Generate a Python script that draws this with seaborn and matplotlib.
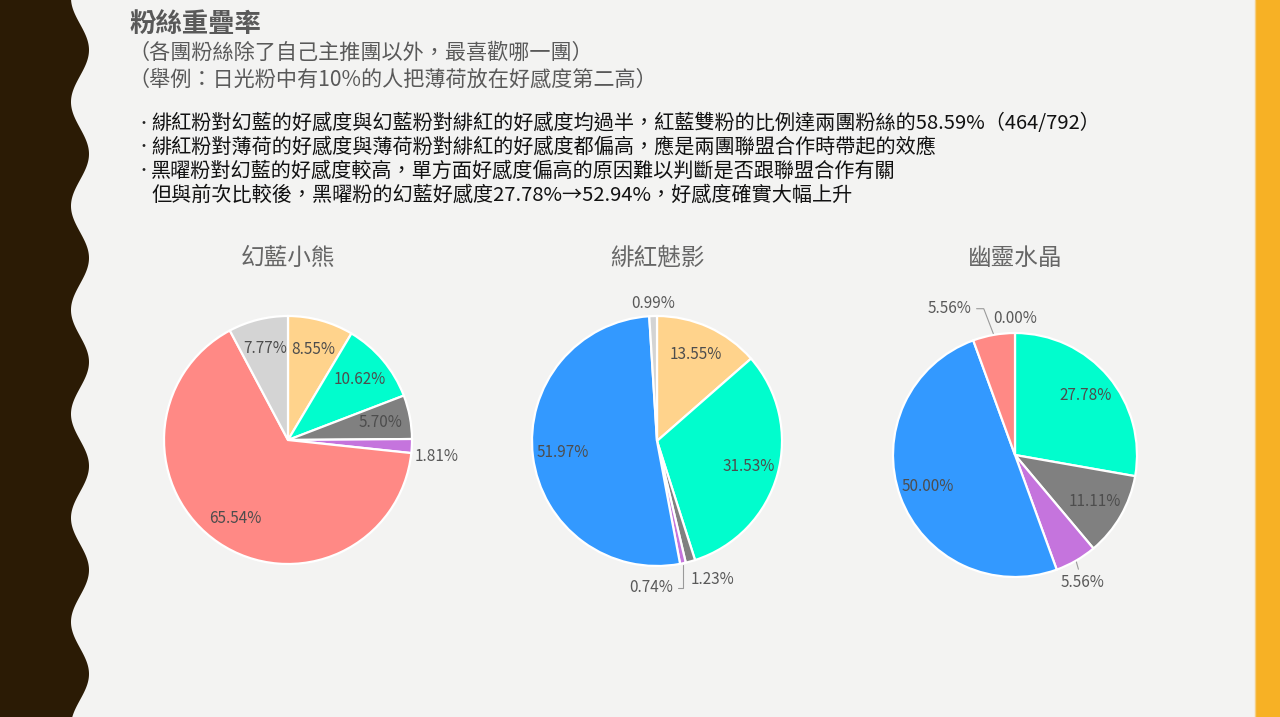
import numpy as np
import matplotlib
matplotlib.use("Agg")
import matplotlib.pyplot as plt
import seaborn as sns

# ---- data ----
title = "粉絲重疊率"
subtitles = ["（各團粉絲除了自己主推團以外，最喜歡哪一團）",
             "（舉例：日光粉中有10%的人把薄荷放在好感度第二高）"]
bullets = ["緋紅粉對幻藍的好感度與幻藍粉對緋紅的好感度均過半，紅藍雙粉的比例達兩團粉絲的58.59%（464/792）",
           "緋紅粉對薄荷的好感度與薄荷粉對緋紅的好感度都偏高，應是兩團聯盟合作時帶起的效應",
           "黑曜粉對幻藍的好感度較高，單方面好感度偏高的原因難以判斷是否跟聯盟合作有關",
           "但與前次比較後，黑曜粉的幻藍好感度27.78%→52.94%，好感度確實大幅上升"]

pie_titles = ["幻藍小熊", "緋紅魅影", "幽靈水晶"]
bear_keys = ["peach", "teal", "gray", "purple", "pink", "lightgray"]
bear_vals = [8.55, 10.62, 5.70, 1.81, 65.54, 7.77]
crimson_keys = ["peach", "teal", "gray", "purple", "blue", "lightgray"]
crimson_vals = [13.55, 31.53, 1.23, 0.74, 51.97, 0.99]
crystal_keys = ["peach", "teal", "gray", "purple", "blue", "pink"]
crystal_vals = [0.00, 27.78, 11.11, 5.56, 50.00, 5.56]

palette = dict(zip(["peach", "teal", "gray", "purple", "blue", "pink", "lightgray"],
                   sns.color_palette(["#FFD38C", "#01FDCD", "#808080", "#C574DD",
                                      "#3399FF", "#FF8985", "#D4D4D4"])))

sns.set_theme(style="white")
plt.rcParams['font.family'] = ['Noto Sans CJK TC', 'DejaVu Sans']

BG = "#F3F3F2"
W, H = 1280, 717
fig = plt.figure(figsize=(12.8, 7.17), dpi=100, facecolor=BG)
bg = fig.add_axes([0, 0, 1, 1], facecolor=BG)
bg.set_xlim(0, W)
bg.set_ylim(H, 0)
bg.axis('off')

# wavy dark border on the left, orange strip on the right
yy = np.linspace(0, H, 800)
xx = 80 + 9 * np.cos(2 * np.pi * (yy - 50) / 104)
bg.fill_betweenx(yy, 0, xx, color="#2B1B05", lw=0)
bg.fill_between([1255, W], 0, H, color="#F7B125", lw=0)
bg.plot([1254.5, 1254.5], [0, H], color="#F5CF85", lw=1)

# header text
txt_col = "#595959"
bg.text(130, 24, title, fontsize=19, color=txt_col, fontweight="bold", va="center")
for i, s in enumerate(subtitles):
    bg.text(128, 53 + 27 * i, s, fontsize=15.2, color=txt_col, va="center")
for i, (s, y) in enumerate(zip(bullets, [124, 147, 171, 195])):
    if i < 3:
        bg.text(136, y, "•", fontsize=10, color="#222222", va="center")
    bg.text(151, y, s, fontsize=14.5, color="#111111", va="center")

# outside label specs: slice index -> (radius, angle shift, ha, leader)
outside_specs = [
    {3: (1.03, -4.5, "left", None)},
    {5: (1.10, 0, "center", None),
     2: (1.14, -1.7, "left", None),
     3: (1.18, -5.7, "right", "angle,angleA=0,angleB=90,rad=0")},
    {0: (1.12, 0, "center", None),
     5: (1.25, 6.4, "right", "angle,angleA=0,angleB=111,rad=0"),
     3: (1.18, -2.2, "center", "arc3,rad=0")},
]

pies = [(288, 440, 124, bear_keys, bear_vals),
        (657, 441, 125, crimson_keys, crimson_vals),
        (1015, 455, 122, crystal_keys, crystal_vals)]

for (cx, cy, r, keys, vals), name, spec in zip(pies, pie_titles, outside_specs):
    ax = fig.add_axes([(cx - r) / W, 1 - (cy + r) / H, 2 * r / W, 2 * r / H])
    wedges, _ = ax.pie(vals, colors=[palette[k] for k in keys], startangle=90,
                       counterclock=False, radius=1,
                       wedgeprops=dict(edgecolor="white", linewidth=1.6))
    ax.set_xlim(-1, 1)
    ax.set_ylim(-1, 1)
    ax.axis('off')
    for i, (w, v) in enumerate(zip(wedges, vals)):
        mid = np.deg2rad((w.theta1 + w.theta2) / 2)
        lab = f"{v:.2f}%"
        if i in spec:
            rr, shift, ha, leader = spec[i]
            a = mid + np.deg2rad(shift)
            pos = (rr * np.cos(a), rr * np.sin(a))
            if leader is None:
                ax.text(*pos, lab, ha=ha, va="center", fontsize=11, color=txt_col)
            else:
                ax.annotate(lab, xy=(np.cos(mid), np.sin(mid)), xytext=pos,
                            ha=ha, va="center", fontsize=11, color=txt_col,
                            arrowprops=dict(arrowstyle="-", color="#9A9A9A", lw=0.8,
                                            connectionstyle=leader,
                                            shrinkA=1, shrinkB=1))
        else:
            ax.text(0.76 * np.cos(mid), 0.76 * np.sin(mid), lab, ha="center",
                    va="center", fontsize=11, color="#4D4D4D")
    bg.text(cx, 258, name, fontsize=17, color="#666666", ha="center", va="center")

fig.savefig("out.png", dpi=100, facecolor=BG)
